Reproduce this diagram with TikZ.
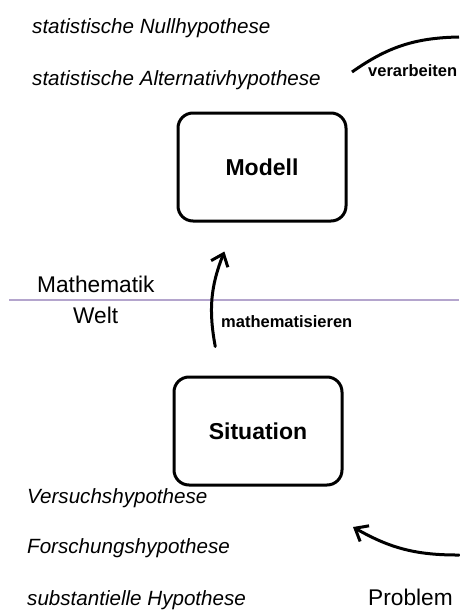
\documentclass[tikz,border=0pt]{standalone}
\usepackage{fontspec}
\setmainfont{Liberation Sans}
\usepackage{tikz}
\usetikzlibrary{calc}
\usetikzlibrary{arrows.meta}
\definecolor{divline}{RGB}{180,165,205}

\begin{document}
\begin{tikzpicture}[x=1pt,y=1pt,
        hyp/.style={anchor=base west,inner sep=0pt,font=\fontsize{20.6}{24}\selectfont\itshape},
        world/.style={anchor=base west,inner sep=0pt,font=\fontsize{22.7}{26}\selectfont},
        stepname/.style={anchor=base west,inner sep=0pt,font=\fontsize{16.5}{19}\selectfont\bfseries},
        box/.style={draw,line width=3pt,rounded corners=15pt,minimum width=168pt,minimum height=108pt,font=\fontsize{23}{27}\selectfont\bfseries},
        flow/.style={line width=3pt,line cap=round,-{Straight Barb[length=11pt,width=18pt]}}]
        \useasboundingbox (0,0) rectangle (459,-610);
        % hypotheses on the model side
        \node[hyp] (nullhyp) at (32,-34) {statistische Nullhypothese};
        \node[hyp] (althyp) at (32,-85) {statistische Alternativhypothese};
        \node[stepname] (verarb) at (368,-76) {verarbeiten};
        \coordinate (arcin) at (352,-72);
        \coordinate (arcout) at (459,-37);
        \draw[line width=3pt] (arcin) to[bend left=17] (arcout);
        \node[box] (modell) at (262,-167) {Modell};
        % border between both worlds
        \coordinate (lineL) at (9,-300);
        \coordinate (lineR) at (459,-300);
        \draw[divline,line width=1.2pt] (lineL)--(lineR);
        \node[world] (mathe) at (37,-292) {Mathematik};
        \node[world] (welt) at (73,-323) {Welt};
        \node[box] (situation) at (258,-431) {Situation};
        \coordinate (upin) at ($(situation.north west)!0.25!(situation.north east)+(0,29)$);
        \coordinate (uptip) at ($(modell.south west)!0.28!(modell.south east)+(0,-29)$);
        \draw[flow] (upin) to[bend left=16] (uptip);
        \node[stepname] (mathem) at (221,-327) {mathematisieren};
        % hypotheses on the world side
        \node[hyp] (versuch) at (27,-503) {Versuchshypothese};
        \node[hyp] (forsch) at (27,-553) {Forschungshypothese};
        \node[hyp] (subst) at (27,-605) {substantielle Hypothese};
        \node[world] (problem) at (368,-605) {Problem};
        \coordinate (backin) at (459,-555);
        \coordinate (backtip) at (353,-527);
        \draw[flow] (backin) to[bend left=15] (backtip);
    \end{tikzpicture}
\end{document}
